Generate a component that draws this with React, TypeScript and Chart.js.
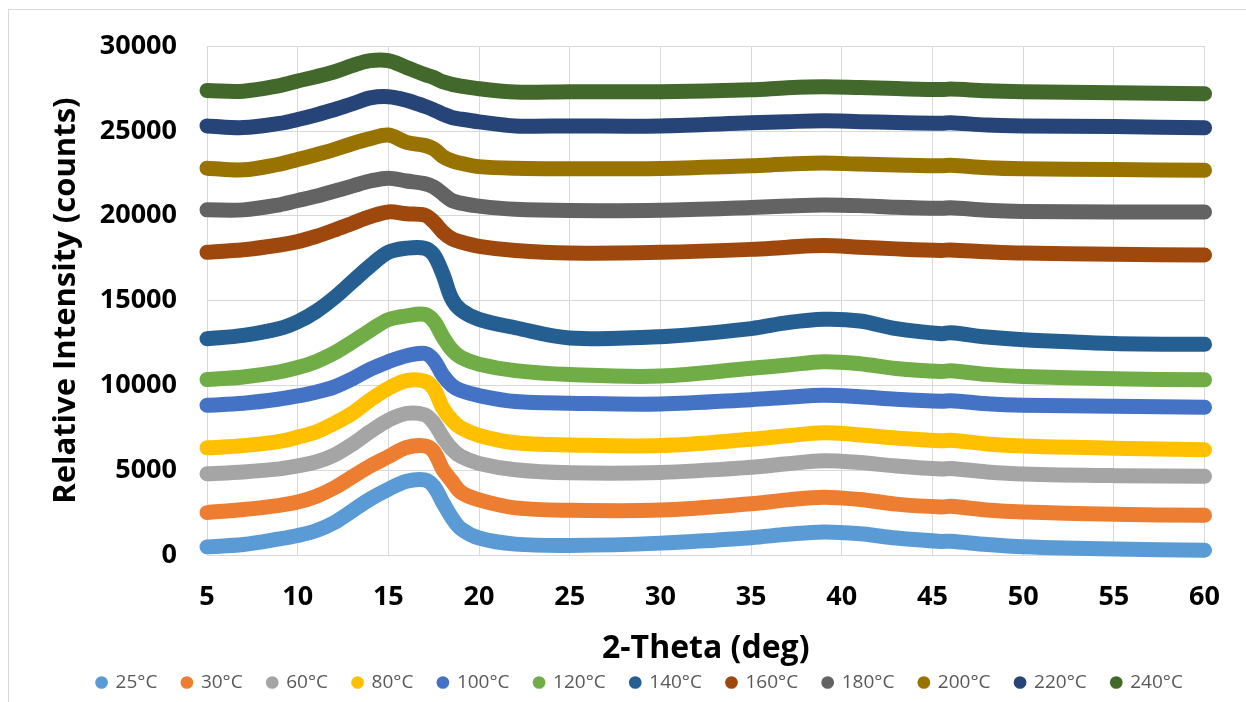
import React, { useEffect, useRef } from "react";
import { Chart, registerables } from "chart.js";

Chart.register(...registerables);

// 2-Theta sampling positions (deg)
const twoTheta = [5, 7, 9, 10, 11, 12, 13, 14, 15, 16, 17, 17.5, 18, 18.5, 19, 20, 22, 25, 30, 35, 37, 39, 41, 43, 45.5, 46, 48, 50, 55, 60];

// Relative intensity (counts) per annealing temperature
const t25 = [480, 620, 950, 1150, 1430, 1900, 2600, 3300, 3880, 4350, 4430, 4050, 3100, 2200, 1550, 1000, 640, 560, 700, 1020, 1220, 1360, 1250, 1000, 800, 810, 620, 490, 350, 280];
const t30 = [2500, 2680, 2930, 3120, 3450, 3950, 4600, 5250, 5800, 6340, 6430, 6100, 5050, 4350, 3700, 3250, 2780, 2640, 2650, 3020, 3250, 3410, 3270, 3000, 2830, 2870, 2650, 2530, 2400, 2340];
const t60 = [4790, 4900, 5080, 5250, 5480, 5880, 6520, 7280, 7950, 8350, 8270, 7800, 6950, 6250, 5810, 5400, 5030, 4850, 4870, 5170, 5380, 5560, 5450, 5250, 5070, 5100, 4900, 4780, 4680, 4640];
const t80 = [6320, 6450, 6700, 6950, 7250, 7750, 8350, 9150, 9830, 10280, 10250, 9800, 8670, 7950, 7500, 7050, 6620, 6490, 6450, 6820, 7030, 7210, 7080, 6900, 6730, 6770, 6550, 6430, 6300, 6200];
const t100 = [8830, 8950, 9200, 9380, 9600, 9900, 10380, 10950, 11400, 11750, 11890, 11500, 10600, 10000, 9700, 9400, 9050, 8950, 8900, 9160, 9300, 9420, 9330, 9180, 9060, 9100, 8920, 8830, 8770, 8710];
const t120 = [10350, 10500, 10800, 11050, 11400, 11900, 12550, 13250, 13880, 14100, 14190, 13800, 12870, 12100, 11650, 11250, 10870, 10640, 10550, 11010, 11200, 11400, 11280, 11000, 10820, 10860, 10650, 10530, 10390, 10330];
const t140 = [12750, 12950, 13350, 13750, 14350, 15150, 16100, 17050, 17850, 18090, 18090, 17700, 16570, 15100, 14450, 13900, 13400, 12800, 12870, 13350, 13700, 13900, 13800, 13350, 13050, 13100, 12850, 12690, 12470, 12420];
const t160 = [17850, 18000, 18280, 18480, 18780, 19150, 19550, 19950, 20230, 20120, 20040, 19650, 19050, 18650, 18450, 18200, 17950, 17800, 17850, 18020, 18150, 18250, 18150, 18050, 17960, 17990, 17880, 17800, 17730, 17690];
const t180 = [20350, 20350, 20650, 20900, 21150, 21450, 21750, 22050, 22220, 22050, 21900, 21700, 21300, 20900, 20750, 20570, 20380, 20310, 20330, 20490, 20580, 20640, 20600, 20500, 20440, 20470, 20330, 20260, 20220, 20220];
const t200 = [22810, 22710, 23050, 23320, 23600, 23900, 24250, 24550, 24760, 24330, 24150, 23950, 23500, 23250, 23100, 22900, 22800, 22770, 22790, 22950, 23050, 23110, 23050, 23000, 22950, 22980, 22830, 22770, 22730, 22680];
const t220 = [25300, 25200, 25450, 25680, 25950, 26250, 26600, 26950, 27020, 26820, 26460, 26250, 26000, 25800, 25700, 25540, 25300, 25300, 25300, 25480, 25550, 25600, 25550, 25500, 25460, 25490, 25350, 25300, 25260, 25190];
const t240 = [27390, 27350, 27680, 27950, 28200, 28480, 28850, 29150, 29150, 28750, 28330, 28150, 27900, 27750, 27650, 27490, 27300, 27320, 27320, 27430, 27550, 27610, 27560, 27500, 27440, 27470, 27370, 27320, 27250, 27200];

const seriesLabels = ["25°C", "30°C", "60°C", "80°C", "100°C", "120°C", "140°C", "160°C", "180°C", "200°C", "220°C", "240°C"];
const seriesValues = [t25, t30, t60, t80, t100, t120, t140, t160, t180, t200, t220, t240];
const seriesColors = ["#5B9BD5", "#ED7D31", "#A5A5A5", "#FFC000", "#4472C4", "#70AD47", "#255E91", "#9E480E", "#636363", "#997300", "#264478", "#43682B"];

const xTicks = { min: 5, max: 60, step: 5 };
const yTicks = { min: 0, max: 30000, step: 5000 };

const FONT = "'Open Sans', 'Liberation Sans', sans-serif";

// White background and thin outer frame
const framePlugin = {
  id: "frame",
  beforeDraw(chart: any) {
    const ctx = chart.ctx;
    ctx.save();
    ctx.fillStyle = "#ffffff";
    ctx.fillRect(0, 0, chart.width, chart.height);
    ctx.strokeStyle = "#d9d9d9";
    ctx.lineWidth = 1;
    ctx.strokeRect(8.5, 9.5, chart.width + 20, chart.height + 20);
    ctx.restore();
  },
};

export default function App() {
  const canvasRef = useRef<HTMLCanvasElement | null>(null);

  useEffect(() => {
    if (!canvasRef.current) return;
    const datasets = seriesLabels.map((label, i) => ({
      label,
      data: twoTheta.map((x, j) => ({ x, y: seriesValues[i][j] })),
      borderColor: seriesColors[i],
      backgroundColor: seriesColors[i],
      borderWidth: 15,
      borderCapStyle: "round" as const,
      borderJoinStyle: "round" as const,
      pointRadius: 0,
      pointHoverRadius: 0,
      tension: 0.35,
      clip: false as any,
    }));

    const defaultLabels = (Chart.defaults as any).plugins.legend.labels.generateLabels;

    const chart = new Chart(canvasRef.current, {
      type: "line",
      data: { datasets },
      plugins: [framePlugin],
      options: {
        animation: false,
        responsive: false,
        maintainAspectRatio: false,
        layout: { padding: { top: 42, right: 38, left: 72, bottom: 0 } },
        plugins: {
          tooltip: { enabled: false },
          legend: {
            position: "bottom",
            labels: {
              usePointStyle: true,
              pointStyle: "circle",
              boxWidth: 9,
              boxHeight: 9,
              padding: 25,
              color: "#595959",
              font: { family: FONT, size: 19 },
              generateLabels: (c: any) =>
                defaultLabels(c).map((item: any) => ({ ...item, lineWidth: 0 })),
            },
          },
        },
        scales: {
          x: {
            type: "linear",
            min: xTicks.min,
            max: xTicks.max,
            afterFit(scale: any) {
              scale.height = 93;
            },
            grid: { color: "#d9d9d9", drawTicks: false },
            border: { color: "#d9d9d9" },
            ticks: {
              stepSize: xTicks.step,
              padding: 26,
              color: "#000000",
              font: { family: FONT, size: 27, weight: "bold" },
              callback: (v: any) => String(v),
            },
            title: {
              display: true,
              text: "2-Theta (deg)",
              color: "#000000",
              font: { family: FONT, size: 32, weight: "bold" },
              padding: { top: 0, bottom: -20.5 },
            },
          },
          y: {
            type: "linear",
            min: yTicks.min,
            max: yTicks.max,
            afterFit(scale: any) {
              scale.width = 135;
            },
            grid: { color: "#d9d9d9", drawTicks: false },
            border: { color: "#d9d9d9" },
            ticks: {
              stepSize: yTicks.step,
              padding: 30,
              color: "#000000",
              font: { family: FONT, size: 27, weight: "bold" },
              callback: (v: any) => String(v),
            },
            title: {
              display: true,
              text: "Relative Intensity (counts)",
              color: "#000000",
              font: { family: FONT, size: 31, weight: "bold" },
              padding: { top: -24.6, bottom: 0 },
            },
          },
        },
      },
    });
    return () => chart.destroy();
  }, []);

  return (
    <div style={{ position: "fixed", left: 0, top: 0, width: 1246, height: 702, background: "#fff" }}>
      <canvas ref={canvasRef} width={1246} height={702} style={{ display: "block" }} />
    </div>
  );
}
